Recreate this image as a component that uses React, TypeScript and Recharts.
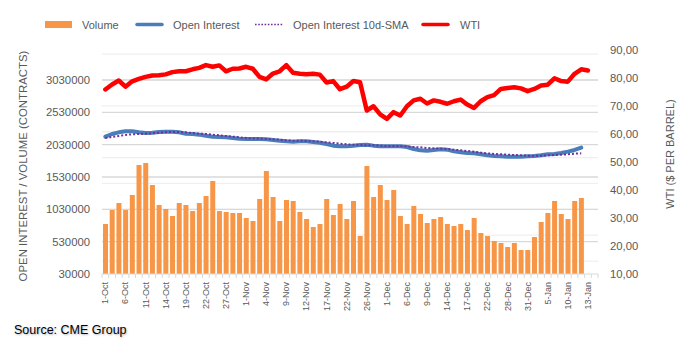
import React from 'react';
import { ComposedChart, Bar, Line, XAxis, YAxis, CartesianGrid } from 'recharts';

const dates = [
  '1-Oct', '4-Oct', '5-Oct', '6-Oct', '7-Oct', '8-Oct', '11-Oct', '12-Oct', '13-Oct', '14-Oct',
  '15-Oct', '18-Oct', '19-Oct', '20-Oct', '21-Oct', '22-Oct', '25-Oct', '26-Oct', '27-Oct', '28-Oct',
  '29-Oct', '1-Nov', '2-Nov', '3-Nov', '4-Nov', '5-Nov', '8-Nov', '9-Nov', '10-Nov', '11-Nov',
  '12-Nov', '15-Nov', '16-Nov', '17-Nov', '18-Nov', '19-Nov', '22-Nov', '23-Nov', '24-Nov', '26-Nov',
  '29-Nov', '30-Nov', '1-Dec', '2-Dec', '3-Dec', '6-Dec', '7-Dec', '8-Dec', '9-Dec', '10-Dec',
  '13-Dec', '14-Dec', '15-Dec', '16-Dec', '17-Dec', '20-Dec', '21-Dec', '22-Dec', '23-Dec', '27-Dec',
  '28-Dec', '29-Dec', '30-Dec', '31-Dec', '3-Jan', '4-Jan', '5-Jan', '6-Jan', '7-Jan', '10-Jan',
  '11-Jan', '12-Jan', '13-Jan', '14-Jan',
];

const volume = [
  803000, 1020000, 1128000, 1020000, 1252000, 1716000, 1747000, 1406000, 1097000, 1035000,
  927000, 1128000, 1097000, 1004000, 1128000, 1236000, 1468000, 1004000, 989000, 973000,
  973000, 896000, 850000, 1190000, 1623000, 1221000, 850000, 1174000, 1159000, 989000,
  881000, 757000, 803000, 1190000, 942000, 1113000, 881000, 1159000, 618000, 1700000,
  1221000, 1406000, 1174000, 1329000, 927000, 803000, 1082000, 958000, 819000, 881000,
  911000, 803000, 772000, 803000, 710000, 896000, 664000, 618000, 540000, 509000,
  448000, 509000, 401000, 401000, 602000, 834000, 973000, 1159000, 958000, 881000,
  1159000, 1205000,
];

const openInterest = [
  2154000, 2195000, 2221000, 2236000, 2236000, 2221000, 2210000, 2216000, 2226000, 2231000,
  2231000, 2221000, 2200000, 2195000, 2185000, 2169000, 2154000, 2149000, 2144000, 2133000,
  2123000, 2118000, 2118000, 2118000, 2113000, 2102000, 2092000, 2082000, 2077000, 2082000,
  2082000, 2071000, 2061000, 2040000, 2015000, 2004000, 2004000, 2015000, 2025000, 2030000,
  2015000, 2004000, 2004000, 2004000, 2004000, 1994000, 1963000, 1942000, 1937000, 1948000,
  1958000, 1953000, 1927000, 1912000, 1901000, 1896000, 1881000, 1865000, 1855000, 1850000,
  1844000, 1844000, 1844000, 1850000, 1855000, 1865000, 1881000, 1886000, 1901000, 1922000,
  1948000, 1984000,
];

const openInterestSma = [
  2133000, 2149000, 2164000, 2180000, 2190000, 2195000, 2200000, 2205000, 2216000, 2221000,
  2226000, 2226000, 2221000, 2210000, 2200000, 2195000, 2185000, 2174000, 2164000, 2154000,
  2144000, 2133000, 2128000, 2123000, 2118000, 2113000, 2108000, 2097000, 2092000, 2092000,
  2087000, 2082000, 2077000, 2066000, 2056000, 2046000, 2035000, 2030000, 2025000, 2020000,
  2020000, 2015000, 2009000, 2009000, 2009000, 2004000, 1994000, 1989000, 1979000, 1973000,
  1968000, 1963000, 1953000, 1942000, 1932000, 1922000, 1906000, 1896000, 1886000, 1881000,
  1876000, 1870000, 1865000, 1860000, 1860000, 1860000, 1865000, 1870000, 1876000, 1881000,
  1891000, 1896000,
];

const wti = [
  75.9, 77.7, 79.1, 76.9, 78.8, 79.7, 80.4, 80.9, 81.0, 81.3,
  82.1, 82.4, 82.4, 83.1, 83.6, 84.6, 84.0, 84.5, 82.4, 83.3,
  83.4, 84.0, 83.3, 80.4, 79.5, 81.6, 82.4, 84.6, 81.9, 81.5,
  81.3, 81.5, 81.2, 78.4, 78.9, 76.0, 76.9, 78.9, 78.5, 68.4,
  69.9, 67.0, 65.4, 67.8, 66.6, 69.9, 72.0, 72.6, 70.9, 72.0,
  71.5, 70.8, 71.7, 72.3, 70.5, 69.3, 71.7, 73.2, 73.9, 76.1,
  76.4, 76.7, 76.3, 75.3, 76.1, 77.3, 77.6, 79.9, 78.9, 78.7,
  81.5, 83.1, 82.7,
];

const leftTicks = [30000, 530000, 1030000, 1530000, 2030000, 2530000, 3030000];
const rightTicks = [10, 20, 30, 40, 50, 60, 70, 80, 90];

const data = dates.map((date, i) => ({
  date,
  volume: volume[i] ?? null,
  oi: openInterest[i] ?? null,
  sma: openInterestSma[i] ?? null,
  wti: wti[i] ?? null,
}));

const W = 689;
const H = 352;
const LEFT_W = 102;
const RIGHT_W = 91;
const TOP = 50;
const X_H = 78;
const HALF_BAND = (W - LEFT_W - RIGHT_W) / dates.length / 2;
const minorGrid = Array.from({ length: 34 }, (_, i) => 130000 + i * 100000);

const FONT = '"Liberation Sans", Arial, sans-serif';
const TXT = '#595959';

const XTick = (props: any) => {
  const { x, y, payload } = props;
  const idx = props.index ?? payload.index;
  const isLast = idx === dates.length - 1;
  return (
    <g>
      <line x1={x - HALF_BAND} x2={x - HALF_BAND} y1={y} y2={y + 4} stroke="#d9d9d9" strokeWidth={1} />
      {isLast && (
        <line x1={x + HALF_BAND} x2={x + HALF_BAND} y1={y} y2={y + 4} stroke="#d9d9d9" strokeWidth={1} />
      )}
      {idx % 3 === 0 && (
        <text
          transform={`translate(${x},${y + 8}) rotate(-90)`}
          textAnchor="end"
          dominantBaseline="central"
          fontSize={9}
          fill={TXT}
          fontFamily={FONT}
        >
          {payload.value}
        </text>
      )}
    </g>
  );
};

const fmtRight = (v: number) => v.toFixed(2).replace('.', ',');

export default function App() {
  return (
    <div
      style={{
        position: 'absolute',
        left: 0,
        top: 0,
        width: W,
        height: H,
        background: '#fff',
        fontFamily: FONT,
      }}
    >
      <ComposedChart
        width={W}
        height={H}
        data={data}
        margin={{ top: TOP, right: 0, bottom: 0, left: 0 }}
        barCategoryGap="15%"
      >
        <CartesianGrid
          yAxisId="left"
          vertical={false}
          horizontalValues={minorGrid}
          stroke="#efefef"
          strokeWidth={1.3}
        />
        <CartesianGrid
          yAxisId="left"
          vertical={false}
          horizontalValues={leftTicks.slice(1)}
          stroke="#d9d9d9"
          strokeWidth={1.3}
        />
        <XAxis
          dataKey="date"
          interval={0}
          height={X_H}
          tickLine={false}
          tickSize={0}
          tickMargin={0}
          axisLine={{ stroke: '#d9d9d9' }}
          tick={<XTick />}
        />
        <YAxis
          yAxisId="left"
          width={LEFT_W}
          domain={[30000, 3494000]}
          ticks={leftTicks}
          allowDataOverflow
          axisLine={false}
          tickLine={false}
          tickSize={0}
          tickMargin={12}
          tick={{ fontSize: 11.3, fill: TXT, fontFamily: FONT }}
        />
        <YAxis
          yAxisId="right"
          orientation="right"
          width={RIGHT_W}
          domain={[10, 90]}
          ticks={rightTicks}
          allowDataOverflow
          axisLine={false}
          tickLine={false}
          tickSize={0}
          tickMargin={12}
          tickFormatter={fmtRight}
          tick={{ fontSize: 11.3, fill: TXT, fontFamily: FONT }}
        />
        <Bar yAxisId="left" dataKey="volume" fill="#F79646" isAnimationActive={false} />
        <Line
          yAxisId="left"
          dataKey="oi"
          stroke="#4A7EBB"
          strokeWidth={4}
          dot={false}
          strokeLinecap="round"
          strokeLinejoin="round"
          isAnimationActive={false}
        />
        <Line
          yAxisId="left"
          dataKey="sma"
          stroke="#7030A0"
          strokeWidth={2}
          strokeDasharray="2 2"
          dot={false}
          isAnimationActive={false}
        />
        <Line
          yAxisId="right"
          dataKey="wti"
          stroke="#FF0000"
          strokeWidth={4.5}
          dot={false}
          strokeLinecap="round"
          strokeLinejoin="round"
          isAnimationActive={false}
        />
      </ComposedChart>
      <svg
        width={W}
        height={H}
        style={{ position: 'absolute', left: 0, top: 0, pointerEvents: 'none' }}
        fontFamily={FONT}
      >
        <rect x={45} y={21} width={27} height={7} fill="#F79646" />
        <text x={82} y={24.5} fontSize={11} fill={TXT} dominantBaseline="central">Volume</text>
        <line x1={137} x2={162} y1={24.5} y2={24.5} stroke="#4A7EBB" strokeWidth={3.5} strokeLinecap="round" />
        <text x={173} y={24.5} fontSize={11} fill={TXT} dominantBaseline="central">Open Interest</text>
        <line x1={255} x2={283} y1={24.5} y2={24.5} stroke="#7030A0" strokeWidth={1.6} strokeDasharray="1.6 1.6" />
        <text x={293} y={24.5} fontSize={11} fill={TXT} dominantBaseline="central">Open Interest 10d-SMA</text>
        <line x1={423} x2={448} y1={24.5} y2={24.5} stroke="#FF0000" strokeWidth={3.5} strokeLinecap="round" />
        <text x={460} y={24.5} fontSize={11} fill={TXT} dominantBaseline="central">WTI</text>
        <text
          transform="translate(22.5,166) rotate(-90)"
          textAnchor="middle"
          dominantBaseline="central"
          fontSize={11.4}
          fill={TXT}
        >
          OPEN INTEREST / VOLUME (CONTRACTS)
        </text>
        <text
          transform="translate(669.5,154) rotate(-90)"
          textAnchor="middle"
          dominantBaseline="central"
          fontSize={11}
          fill={TXT}
        >
          WTI ($ PER BARREL)
        </text>
      </svg>
      <div
        style={{
          position: 'absolute',
          left: 14,
          top: 321,
          fontSize: 12.5,
          color: '#000',
          lineHeight: '18px',
          textShadow: '1px 1px 2px rgba(0,0,0,0.3)',
          whiteSpace: 'nowrap',
        }}
      >
        Source: CME Group
      </div>
    </div>
  );
}
